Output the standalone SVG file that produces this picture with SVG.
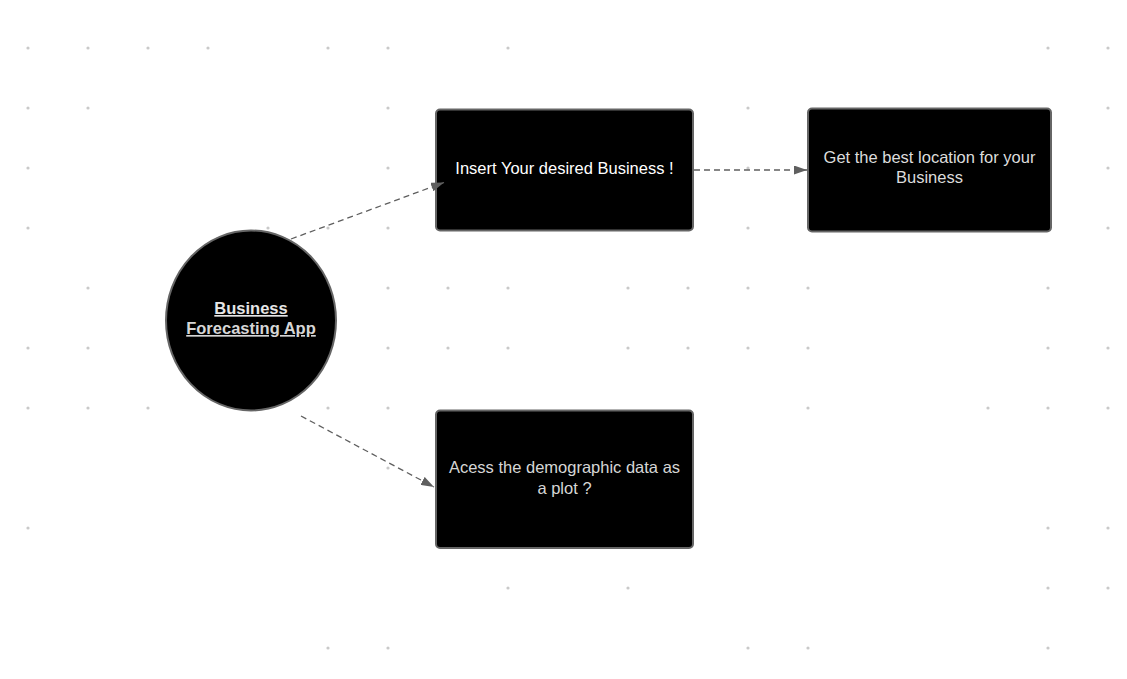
<svg xmlns="http://www.w3.org/2000/svg" width="1127" height="679" viewBox="0 0 1127 679">
<style>
.dot{fill:#c9c9c9}
.node{fill:#000;stroke:#666;stroke-width:2}
.t{font-family:"Liberation Sans",Arial,sans-serif;font-size:16.5px;text-anchor:middle}
.conn{fill:none;stroke:#5f5f5f;stroke-width:1.3;stroke-dasharray:6 4}
</style>
<defs>
<marker id="arr" viewBox="0 0 13 9" refX="13" refY="4.5" markerWidth="13" markerHeight="9" markerUnits="userSpaceOnUse" orient="auto">
<path d="M0,0 L13,4.5 L0,9 Z" fill="#5f5f5f"/>
</marker>
</defs>
<rect width="1127" height="679" fill="#fff"/>
<g id="grid">
<circle class="dot" cx="28" cy="48" r="1.6"/><circle class="dot" cx="88" cy="48" r="1.6"/><circle class="dot" cx="148" cy="48" r="1.6"/><circle class="dot" cx="208" cy="48" r="1.6"/><circle class="dot" cx="328" cy="48" r="1.6"/><circle class="dot" cx="388" cy="48" r="1.6"/><circle class="dot" cx="508" cy="48" r="1.6"/><circle class="dot" cx="1048" cy="48" r="1.6"/><circle class="dot" cx="1108" cy="48" r="1.6"/>
<circle class="dot" cx="28" cy="108" r="1.6"/><circle class="dot" cx="88" cy="108" r="1.6"/><circle class="dot" cx="388" cy="108" r="1.6"/><circle class="dot" cx="748" cy="108" r="1.6"/><circle class="dot" cx="1108" cy="108" r="1.6"/>
<circle class="dot" cx="28" cy="168" r="1.6"/><circle class="dot" cx="388" cy="168" r="1.6"/><circle class="dot" cx="748" cy="168" r="1.6"/><circle class="dot" cx="1108" cy="168" r="1.6"/>
<circle class="dot" cx="28" cy="228" r="1.6"/><circle class="dot" cx="268" cy="228" r="1.6"/><circle class="dot" cx="328" cy="228" r="1.6"/><circle class="dot" cx="388" cy="228" r="1.6"/><circle class="dot" cx="748" cy="228" r="1.6"/><circle class="dot" cx="1108" cy="228" r="1.6"/>
<circle class="dot" cx="88" cy="288" r="1.6"/><circle class="dot" cx="388" cy="288" r="1.6"/><circle class="dot" cx="448" cy="288" r="1.6"/><circle class="dot" cx="508" cy="288" r="1.6"/><circle class="dot" cx="628" cy="288" r="1.6"/><circle class="dot" cx="688" cy="288" r="1.6"/><circle class="dot" cx="748" cy="288" r="1.6"/><circle class="dot" cx="808" cy="288" r="1.6"/><circle class="dot" cx="1048" cy="288" r="1.6"/>
<circle class="dot" cx="28" cy="348" r="1.6"/><circle class="dot" cx="88" cy="348" r="1.6"/><circle class="dot" cx="388" cy="348" r="1.6"/><circle class="dot" cx="448" cy="348" r="1.6"/><circle class="dot" cx="508" cy="348" r="1.6"/><circle class="dot" cx="628" cy="348" r="1.6"/><circle class="dot" cx="688" cy="348" r="1.6"/><circle class="dot" cx="748" cy="348" r="1.6"/><circle class="dot" cx="808" cy="348" r="1.6"/><circle class="dot" cx="1048" cy="348" r="1.6"/><circle class="dot" cx="1108" cy="348" r="1.6"/>
<circle class="dot" cx="28" cy="408" r="1.6"/><circle class="dot" cx="88" cy="408" r="1.6"/><circle class="dot" cx="148" cy="408" r="1.6"/><circle class="dot" cx="328" cy="408" r="1.6"/><circle class="dot" cx="388" cy="408" r="1.6"/><circle class="dot" cx="808" cy="408" r="1.6"/><circle class="dot" cx="988" cy="408" r="1.6"/><circle class="dot" cx="1048" cy="408" r="1.6"/><circle class="dot" cx="1108" cy="408" r="1.6"/>
<circle class="dot" cx="388" cy="468" r="1.6"/>
<circle class="dot" cx="28" cy="528" r="1.6"/><circle class="dot" cx="1048" cy="528" r="1.6"/><circle class="dot" cx="1108" cy="528" r="1.6"/>
<circle class="dot" cx="508" cy="588" r="1.6"/><circle class="dot" cx="628" cy="588" r="1.6"/><circle class="dot" cx="1048" cy="588" r="1.6"/><circle class="dot" cx="1108" cy="588" r="1.6"/>
<circle class="dot" cx="328" cy="648" r="1.6"/><circle class="dot" cx="388" cy="648" r="1.6"/><circle class="dot" cx="748" cy="648" r="1.6"/><circle class="dot" cx="808" cy="648" r="1.6"/><circle class="dot" cx="1048" cy="648" r="1.6"/>
</g>
<g id="node-app">
<ellipse class="node" cx="251" cy="320.5" rx="85" ry="90"/>
<text class="t" x="251" y="314" font-weight="bold" fill="#e6e6e6" text-decoration="underline">Business</text>
<text class="t" x="251" y="334" font-weight="bold" fill="#d6d6d6" text-decoration="underline">Forecasting App</text>
</g>
<g id="node-insert">
<rect class="node" x="436" y="109.5" width="257" height="121" rx="4"/>
<text class="t" x="564.5" y="174" fill="#ffffff">Insert Your desired Business !</text>
</g>
<g id="node-location">
<rect class="node" x="808" y="108.5" width="243" height="123" rx="4"/>
<text class="t" x="929.5" y="163" fill="#dcdcdc">Get the best location for your</text>
<text class="t" x="929.5" y="183" fill="#dcdcdc">Business</text>
</g>
<g id="node-demographic">
<rect class="node" x="436" y="410.5" width="257" height="137.5" rx="4"/>
<text class="t" x="564.5" y="473" fill="#d6d6d6">Acess the demographic data as</text>
<text class="t" x="564.5" y="494" fill="#d6d6d6">a plot ?</text>
</g>
<g id="connectors">
<line class="conn" x1="291" y1="239" x2="444" y2="182.5" marker-end="url(#arr)"/>
<line class="conn" x1="694" y1="170" x2="807" y2="170" marker-end="url(#arr)"/>
<line class="conn" x1="301" y1="416" x2="434" y2="487" marker-end="url(#arr)"/>
</g>
</svg>
